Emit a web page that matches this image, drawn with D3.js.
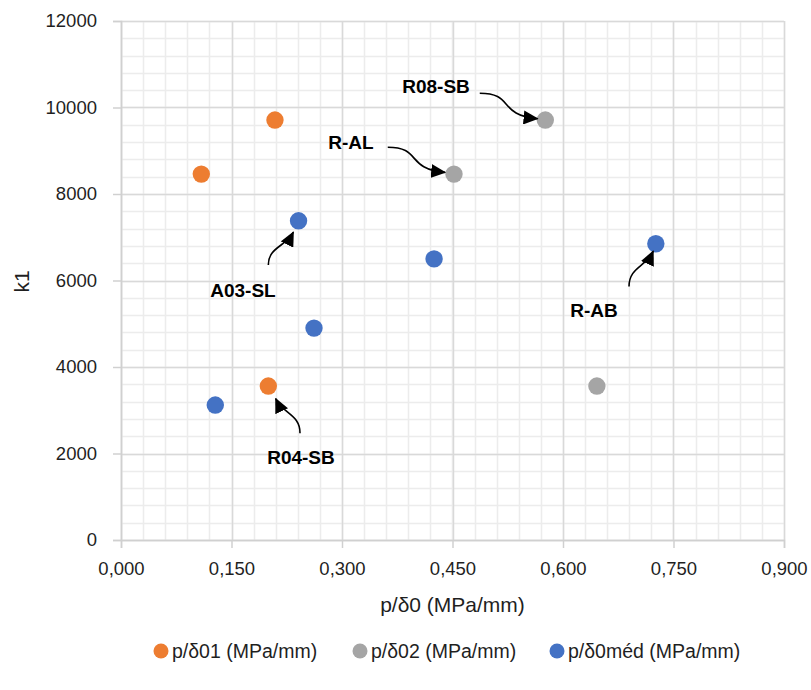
<!DOCTYPE html>
<html><head><meta charset="utf-8">
<script src="https://cdn.jsdelivr.net/npm/d3@7"></script>
<style>body{margin:0;background:#fff;}text{font-family:"Liberation Sans",Arial,sans-serif;}</style>
</head><body>
<svg id="c" width="811" height="690"></svg>
<script>
// ---- data ----
const seriesNames = ["p/δ01 (MPa/mm)", "p/δ02 (MPa/mm)", "p/δ0méd (MPa/mm)"];
const seriesColors = ["#ED7D31", "#A5A5A5", "#4472C4"];
const s1x = [0.109, 0.209, 0.200];
const s1y = [8460, 9710, 3560];
const s2x = [0.452, 0.576, 0.646];
const s2y = [8460, 9710, 3560];
const s3x = [0.128, 0.241, 0.262, 0.425, 0.726];
const s3y = [3120, 7380, 4900, 6500, 6850];
const xTicks = [0, 0.15, 0.3, 0.45, 0.6, 0.75, 0.9];
const yTicks = [0, 2000, 4000, 6000, 8000, 10000, 12000];
const annLabels = ["R08-SB", "R-AL", "A03-SL", "R-AB", "R04-SB"];
const annLabelX = [0.4276, 0.3122, 0.1656, 0.6421, 0.2443];
const annLabelY = [10335, 9040, 5625, 5163, 1757];
// arrow start / tip in data units
const annFromX = [0.4870, 0.3621, 0.2000, 0.6896, 0.2430];
const annFromY = [10330, 9080, 6360, 5860, 2470];
const annToX   = [0.5655, 0.4400, 0.2340, 0.7225, 0.2100];
const annToY   = [9740, 8500, 7120, 6680, 3270];
const annDir   = ["h", "h", "v", "v", "v"];

const svg = d3.select("#c");
const L = 121, R = 784, T = 21, B = 540;
const x = d3.scaleLinear().domain([0, 0.9]).range([L, R]);
const y = d3.scaleLinear().domain([0, 12000]).range([B, T]);

// minor grid
const xMinor = d3.range(0, 0.9001, 0.03);
const yMinor = d3.range(0, 12001, 400);
const g = svg.append("g");
g.selectAll(".xm").data(xMinor).join("line")
  .attr("x1", d => Math.round(x(d)) + 0.5).attr("x2", d => Math.round(x(d)) + 0.5)
  .attr("y1", T).attr("y2", B).attr("stroke", "#ececec").attr("stroke-width", 1.5);
g.selectAll(".ym").data(yMinor).join("line")
  .attr("y1", d => Math.round(y(d)) + 0.5).attr("y2", d => Math.round(y(d)) + 0.5)
  .attr("x1", L).attr("x2", R).attr("stroke", "#ececec").attr("stroke-width", 1.5);
// major grid
g.selectAll(".xM").data(xTicks).join("line")
  .attr("x1", d => Math.round(x(d)) + 0.5).attr("x2", d => Math.round(x(d)) + 0.5)
  .attr("y1", T).attr("y2", B).attr("stroke", "#d9d9d9").attr("stroke-width", 1.5);
g.selectAll(".yM").data(yTicks).join("line")
  .attr("y1", d => Math.round(y(d)) + 0.5).attr("y2", d => Math.round(y(d)) + 0.5)
  .attr("x1", L).attr("x2", R).attr("stroke", "#d9d9d9").attr("stroke-width", 1.5);

// axes
const fmtX = d => d3.format(".3f")(d).replace(".", ",");
const xAxis = svg.append("g").attr("transform", `translate(0,${B})`)
  .call(d3.axisBottom(x).tickValues(xTicks).tickFormat(fmtX).tickSizeOuter(0).tickSize(8).tickPadding(14));
const yAxis = svg.append("g").attr("transform", `translate(${L},0)`)
  .call(d3.axisLeft(y).tickValues(yTicks).tickFormat(d3.format("d")).tickSizeOuter(0).tickSize(8).tickPadding(16));
[xAxis, yAxis].forEach(a => {
  a.select(".domain").attr("stroke", "#d0d0d0").attr("stroke-width", 1.5);
  a.selectAll(".tick line").attr("stroke", "#d0d0d0").attr("stroke-width", 1.5);
  a.selectAll(".tick text").attr("font-size", 18.5).attr("fill", "#1f1f1f")
   .style("font-family", '"Liberation Sans",Arial,sans-serif');
});

// axis titles
svg.append("text").attr("x", (L + R) / 2).attr("y", 612).attr("text-anchor", "middle")
  .attr("font-size", 21).attr("fill", "#1f1f1f").text("p/δ0 (MPa/mm)");
svg.append("text").attr("transform", `translate(29,${(T + B) / 2 + 1}) rotate(-90)`)
  .attr("text-anchor", "middle").attr("font-size", 21).attr("fill", "#1f1f1f").text("k1");

// points
const series = [[s1x, s1y], [s2x, s2y], [s3x, s3y]];
series.forEach((s, i) => {
  svg.append("g").selectAll("circle").data(s[0].map((v, k) => [v, s[1][k]])).join("circle")
    .attr("cx", d => x(d[0])).attr("cy", d => y(d[1])).attr("r", 8.7)
    .attr("fill", seriesColors[i]);
});

// arrow marker
svg.append("defs").append("marker").attr("id", "ah").attr("viewBox", "0 0 15 14")
  .attr("refX", 14).attr("refY", 7).attr("markerWidth", 15).attr("markerHeight", 14)
  .attr("markerUnits", "userSpaceOnUse").attr("orient", "auto")
  .append("path").attr("d", "M0,0 L15,7 L0,14 Z").attr("fill", "#000");

annLabels.forEach((t, i) => {
  svg.append("text").attr("x", x(annLabelX[i])).attr("y", y(annLabelY[i]))
    .attr("text-anchor", "middle").attr("font-size", 19).attr("font-weight", "bold")
    .attr("fill", "#000").text(t);
  const x0 = x(annFromX[i]), y0 = y(annFromY[i]), x1 = x(annToX[i]), y1 = y(annToY[i]);
  let c1, c2;
  if (annDir[i] === "h") { c1 = [x0 + (x1 - x0) * 0.6, y0]; c2 = [x0 + (x1 - x0) * 0.3, y1 - (y1 - y0) * 0.15]; }
  else { c1 = [x0, y0 + (y1 - y0) * 0.55]; c2 = [x0 + (x1 - x0) * 0.7, y0 + (y1 - y0) * 0.55]; }
  svg.append("path").attr("d", `M${x0},${y0} C${c1[0]},${c1[1]} ${c2[0]},${c2[1]} ${x1},${y1}`)
    .attr("fill", "none").attr("stroke", "#000").attr("stroke-width", 1.6).attr("marker-end", "url(#ah)");
});

// legend
const legX = [161, 360, 557];
const leg = svg.append("g");
seriesNames.forEach((n, i) => {
  leg.append("circle").attr("cx", legX[i]).attr("cy", 651).attr("r", 7.5).attr("fill", seriesColors[i]);
  leg.append("text").attr("x", legX[i] + 11).attr("y", 658).attr("font-size", 19.5)
    .attr("fill", "#1f1f1f").text(n);
});
</script>
</body></html>
